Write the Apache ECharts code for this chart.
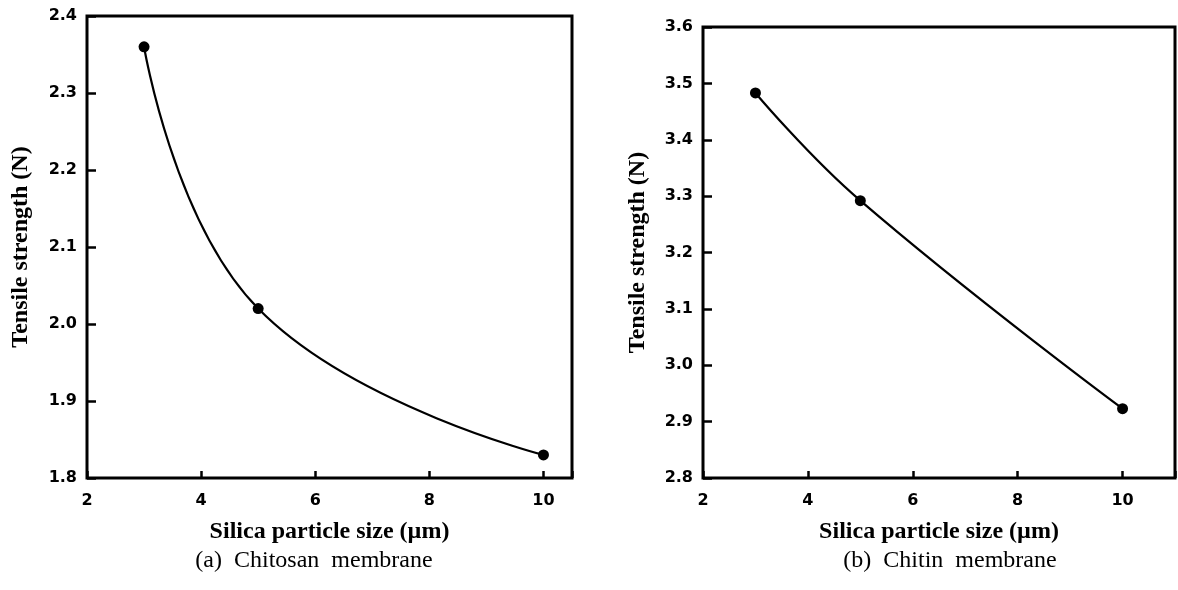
<!DOCTYPE html>
<html>
<head>
<meta charset="utf-8">
<script src="https://cdn.jsdelivr.net/npm/echarts@6/dist/echarts.min.js"></script>
<style>
  html, body { margin: 0; padding: 0; background: #fff; }
  #chart { width: 1178px; height: 590px; }
</style>
</head>
<body>
<div id="chart"></div>
<script>
// silica particle size (um)
var particleSize = [3, 5, 10];
// tensile strength (N)
var chitosanStrength = [2.36, 2.02, 1.83];
var chitinStrength = [3.483, 3.292, 2.923];

var xName = 'Silica particle size (\u00b5m)';
var yName = 'Tensile strength (N)';
var captions = ['(a)  Chitosan  membrane', '(b)  Chitin  membrane'];

var tickFont = { color: '#000', fontFamily: 'DejaVu Sans', fontWeight: 'bold', fontSize: 16 };
var nameFont = { color: '#000', fontFamily: 'Liberation Serif', fontWeight: 'bold', fontSize: 24 };

function pairs(xs, ys) {
  return xs.map(function (x, i) { return [x, ys[i]]; });
}

function xAxisFor(gridIndex, max) {
  return {
    type: 'value', gridIndex: gridIndex,
    min: 2, max: max, interval: 2,
    name: xName, nameLocation: 'middle', nameGap: 42,
    nameTextStyle: nameFont,
    axisLine: { show: false },
    axisTick: { inside: true, length: 7, lineStyle: { color: '#000', width: 2.5 } },
    axisLabel: Object.assign({
      margin: 15,
      formatter: function (v) { return (v % 2 === 0) ? String(v) : ''; }
    }, tickFont),
    splitLine: { show: false }
  };
}

function yAxisFor(gridIndex, min, max, gap) {
  return {
    type: 'value', gridIndex: gridIndex,
    min: min, max: max, interval: 0.1,
    name: yName, nameLocation: 'middle', nameGap: gap,
    nameTextStyle: nameFont,
    axisLine: { show: false },
    axisTick: { inside: true, length: 9, lineStyle: { color: '#000', width: 2.5 } },
    axisLabel: Object.assign({
      margin: 10,
      formatter: function (v) { return v.toFixed(1); }
    }, tickFont),
    splitLine: { show: false }
  };
}

function lineSeries(idx, data) {
  return {
    type: 'line', xAxisIndex: idx, yAxisIndex: idx,
    data: data, smooth: 0.45,
    symbol: 'circle', symbolSize: 11,
    itemStyle: { color: '#000' },
    lineStyle: { color: '#000', width: 2.2 },
    z: 3
  };
}

var chart = echarts.init(document.getElementById('chart'));

var option = {
  animation: false,
  backgroundColor: '#fff',
  grid: [
    { left: 87, top: 16, width: 485, height: 462, show: true, borderColor: '#000', borderWidth: 3 },
    { left: 703, top: 27, right: 2, bottom: 112, show: true, borderColor: '#000', borderWidth: 3 }
  ],
  xAxis: [xAxisFor(0, 10.5), xAxisFor(1, 11)],
  yAxis: [yAxisFor(0, 1.8, 2.4, 54), yAxisFor(1, 2.8, 3.6, 53)],
  series: [
    lineSeries(0, pairs(particleSize, chitosanStrength)),
    lineSeries(1, pairs(particleSize, chitinStrength))
  ],
  graphic: [
    { type: 'text', x: 314, y: 561, style: { text: captions[0], fill: '#000', font: '24px "Liberation Serif"', textAlign: 'center', textVerticalAlign: 'middle' } },
    { type: 'text', x: 950, y: 561, style: { text: captions[1], fill: '#000', font: '24px "Liberation Serif"', textAlign: 'center', textVerticalAlign: 'middle' } }
  ]
};

chart.setOption(option);
</script>
</body>
</html>
